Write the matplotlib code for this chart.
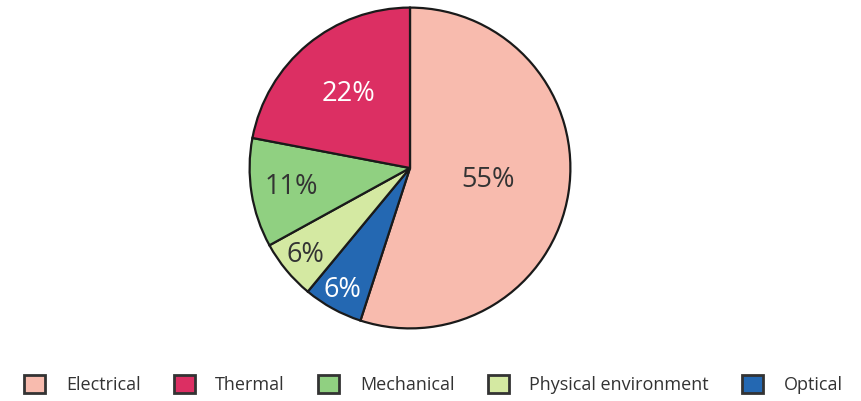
import numpy as np
import matplotlib.pyplot as plt

plt.rcParams['font.family'] = ['Open Sans', 'DejaVu Sans']

# data, clockwise from the top
categories = ['Electrical', 'Optical', 'Physical environment', 'Mechanical', 'Thermal']
shares = [55, 6, 6, 11, 22]
colors = ['#F8BBAE', '#2468B2', '#D4E9A2', '#90D081', '#DC2F63']
text_colors = ['#333333', 'white', '#333333', '#333333', 'white']
pct_dist = [0.49, 0.87, 0.85, 0.75, 0.6]

legend_order = ['Electrical', 'Thermal', 'Mechanical', 'Physical environment', 'Optical']

fig = plt.figure(figsize=(8.62, 4.01), dpi=100)
cx, cy, r = 410, 168, 162
ax = fig.add_axes([(cx - r) / 862, (401 - cy - r) / 401, 2 * r / 862, 2 * r / 401])

wedges, texts, autotexts = ax.pie(
    shares, colors=colors, startangle=90, counterclock=False,
    autopct='%d%%', pctdistance=0.6,
    wedgeprops=dict(edgecolor='#1a1a1a', linewidth=1.6),
    textprops=dict(fontsize=19.5))

for w, t, d, c in zip(wedges, autotexts, pct_dist, text_colors):
    ang = np.deg2rad((w.theta1 + w.theta2) / 2)
    t.set_position((d * np.cos(ang), d * np.sin(ang)))
    t.set_color(c)

ax.set_xlim(-1.01, 1.01)
ax.set_ylim(-1.01, 1.01)
ax.set_aspect('equal')

handles = [wedges[categories.index(n)] for n in legend_order]
proxies = [plt.Rectangle((0, 0), 1, 1, facecolor=h.get_facecolor(), edgecolor='#333333', linewidth=2)
           for h in handles]
fig.legend(proxies, legend_order, loc='center', bbox_to_anchor=(0.503, 0.042), ncol=5,
           frameon=False, fontsize=13, handlelength=1.15, handleheight=1.15,
           columnspacing=1.85, handletextpad=1.15, labelcolor='#333333')

fig.savefig('out.png', dpi=100)
